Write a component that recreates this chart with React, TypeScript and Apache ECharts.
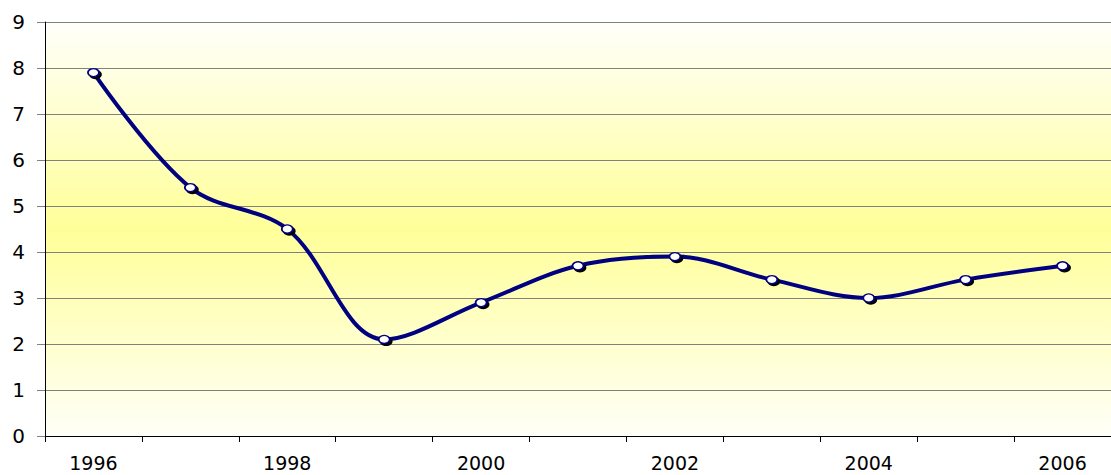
import React, { useEffect, useRef } from "react";
import * as echarts from "echarts";

const years = ["1996", "1997", "1998", "1999", "2000", "2001", "2002", "2003", "2004", "2005", "2006"];
const values = [7.9, 5.4, 4.5, 2.1, 2.9, 3.7, 3.9, 3.4, 3.0, 3.4, 3.7];
const yMin = 0;
const yMax = 9;
const yStep = 1;

export default function App() {
  const ref = useRef<HTMLDivElement>(null);
  useEffect(() => {
    if (!ref.current) return;
    const chart = echarts.init(ref.current, undefined, { renderer: "svg" });
    const font = "'DejaVu Sans', Verdana, sans-serif";
    chart.setOption({
      animation: false,
      backgroundColor: "#ffffff",
      grid: {
        left: 45,
        right: -12,
        top: 22,
        bottom: 39,
        show: true,
        borderWidth: 0,
        backgroundColor: new echarts.graphic.LinearGradient(0, 0, 0, 1, [
          { offset: 0, color: "#fffffb" },
          { offset: 0.5, color: "#ffff99" },
          { offset: 1, color: "#fffff8" },
        ]),
      },
      xAxis: {
        type: "category",
        data: years,
        boundaryGap: true,
        axisLine: { lineStyle: { color: "#000000", width: 1 } },
        axisTick: { show: true, length: 6, interval: 0, lineStyle: { color: "#000000" } },
        axisLabel: {
          interval: 1,
          margin: 19,
          color: "#000000",
          fontSize: 19,
          lineHeight: 16,
          fontFamily: font,
        },
        splitLine: { show: false },
      },
      yAxis: {
        type: "value",
        min: yMin,
        max: yMax,
        interval: yStep,
        axisLine: { show: true, lineStyle: { color: "#000000", width: 1 } },
        axisTick: { show: true, length: 8, lineStyle: { color: "#808080" } },
        axisLabel: {
          margin: 20,
          color: "#000000",
          fontSize: 20,
          fontFamily: font,
        },
        splitLine: { show: true, lineStyle: { color: "#808080", width: 1 } },
      },
      series: [
        {
          type: "line",
          data: values,
          smooth: 0.35,
          symbol: "circle",
          symbolSize: [11, 8],
          lineStyle: { color: "#000080", width: 4 },
          itemStyle: {
            color: "#ffffff",
            borderColor: "#000080",
            borderWidth: 1.5,
            shadowColor: "#000000",
            shadowOffsetX: 2,
            shadowOffsetY: 2,
            shadowBlur: 0,
          },
        },
      ],
    });
    return () => chart.dispose();
  }, []);
  return (
    <div
      ref={ref}
      style={{ position: "fixed", left: 0, top: 0, width: 1111, height: 475 }}
    />
  );
}
